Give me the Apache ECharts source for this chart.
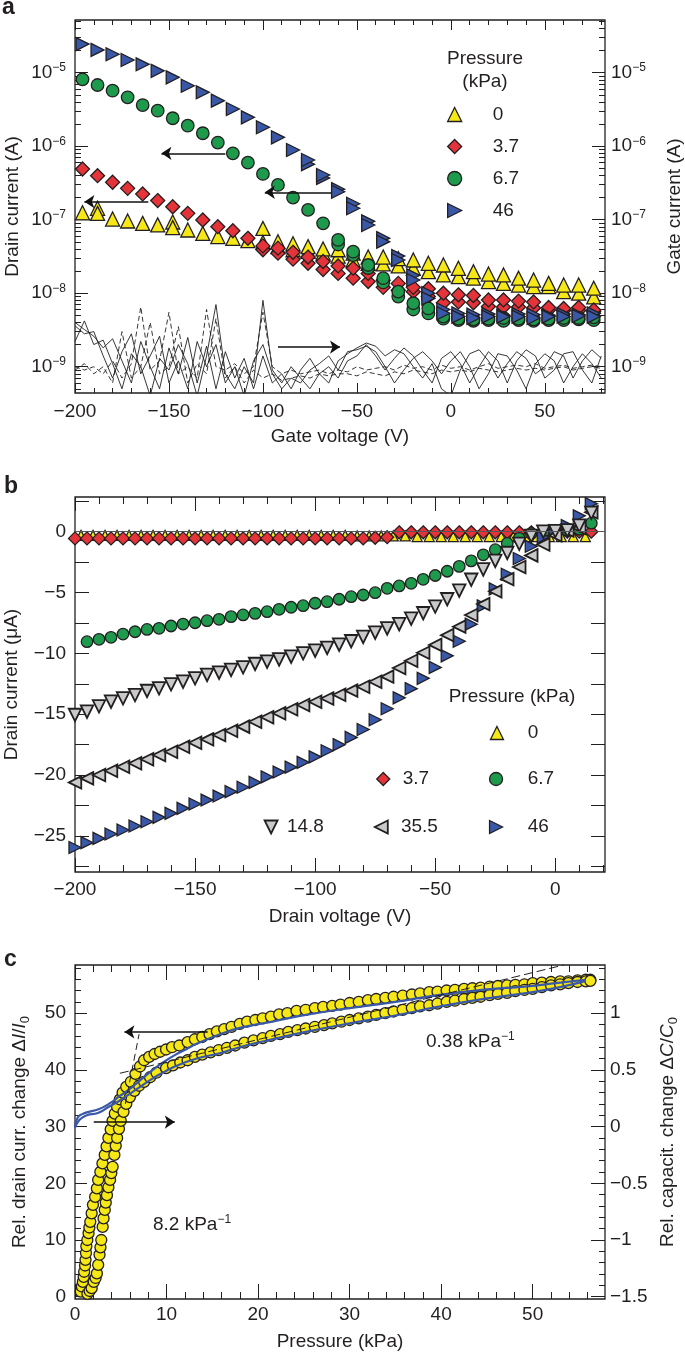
<!DOCTYPE html>
<html>
<head>
<meta charset="utf-8">
<script src="https://cdn.jsdelivr.net/npm/echarts@6.0.0/dist/echarts.min.js"></script>
<style>
  html, body { margin: 0; padding: 0; background: #fff; }
  #chart { width: 685px; height: 1355px; }
</style>
</head>
<body>
<div id="chart"></div>
<script>
// ---------- panel a : transfer curves (drain current, A) ----------
const vGateA = [-196,-188,-180,-172,-164,-156,-148,-140,-132,-124,-116,-108,-100,-92,-84,-76,-68,-60,-52,-44,-36,-28,-20,-12,-4,4,12,20,28,36,44,52,60,68,76];
const iA_0   = [1.24e-7,1.22e-7,1.02e-7,9.6e-8,8.9e-8,8.5e-8,7.8e-8,7.24e-8,6.5e-8,5.9e-8,5.58e-8,5.18e-8,4.9e-8,5.0e-8,4.7e-8,4.3e-8,4.0e-8,3.9e-8,3.5e-8,3.1e-8,3.1e-8,2.95e-8,2.83e-8,2.55e-8,2.42e-8,2.18e-8,1.96e-8,1.82e-8,1.77e-8,1.6e-8,1.51e-8,1.36e-8,1.29e-8,1.29e-8,1.17e-8];
const iA_0b  = [null,1.43e-7,null,null,null,null,9.3e-8,null,null,null,null,null,7.6e-8,4.3e-8,3.9e-8,3.7e-8,3.5e-8,3.2e-8,2.83e-8,2.55e-8,2.5e-8,2.35e-8,2.18e-8,1.96e-8,1.77e-8,1.68e-8,1.6e-8,1.44e-8,1.36e-8,1.29e-8,1.23e-8,1.23e-8,1.05e-8,1.0e-8,8.9e-9];
const iA_37  = [4.9e-7,3.97e-7,3.23e-7,2.67e-7,2.24e-7,1.82e-7,1.5e-7,1.22e-7,9.9e-8,8.03e-8,7.08e-8,5.58e-8,4.4e-8,4.1e-8,3.6e-8,3.1e-8,2.7e-8,2.35e-8,2.19e-8,1.86e-8,1.5e-8,1.36e-8,1.2e-8,1.15e-8,1.0e-8,9.5e-9,9.3e-9,8.1e-9,8.1e-9,7.8e-9,7.6e-9,6.4e-9,6.2e-9,6.4e-9,5.9e-9];
const iA_37b = [null,null,null,null,null,null,null,null,null,null,null,null,3.9e-8,3.5e-8,2.9e-8,2.55e-8,2.1e-8,1.86e-8,1.6e-8,1.44e-8,1.2e-8,1.1e-8,1.05e-8,9.0e-9,7.4e-9,7.6e-9,7.4e-9,6.6e-9,6.5e-9,6.5e-9,6.3e-9,5.9e-9,5.8e-9,5.8e-9,5.6e-9];
const iA_67  = [8.13e-6,6.8e-6,5.69e-6,4.63e-6,3.63e-6,3.04e-6,2.4e-6,1.9e-6,1.5e-6,1.12e-6,8.0e-7,5.97e-7,4.19e-7,2.97e-7,2.0e-7,1.36e-7,8.93e-8,5.3e-8,3.67e-8,2.42e-8,1.6e-8,1.05e-8,7.3e-9,6.2e-9,4.8e-9,4.5e-9,4.4e-9,4.5e-9,4.6e-9,4.5e-9,4.4e-9,4.5e-9,4.6e-9,4.6e-9,4.7e-9];
const iA_67b = [null,null,null,null,null,null,null,null,null,null,null,null,null,null,null,null,null,4.6e-8,3.3e-8,2.2e-8,1.4e-8,9.0e-9,6.0e-9,5.3e-9,4.5e-9,4.3e-9,4.2e-9,4.3e-9,4.2e-9,4.3e-9,4.2e-9,4.3e-9,4.3e-9,4.4e-9,4.3e-9];
const iA_46  = [2.45e-5,2.04e-5,1.78e-5,1.49e-5,1.30e-5,1.06e-5,8.65e-6,6.65e-6,5.41e-6,4.16e-6,3.21e-6,2.47e-6,1.81e-6,1.32e-6,8.87e-7,6.49e-7,4.06e-7,2.40e-7,1.43e-7,8.47e-8,5.02e-8,2.83e-8,1.51e-8,8.5e-9,5.33e-9,4.8e-9,4.6e-9,4.8e-9,4.8e-9,4.8e-9,4.6e-9,4.8e-9,4.8e-9,4.9e-9,4.8e-9];
const iA_46b = [null,null,null,null,null,null,null,null,null,null,null,null,null,null,null,5.7e-7,3.7e-7,2.6e-7,1.65e-7,9.5e-8,5.6e-8,3.2e-8,1.75e-8,1.0e-8,6.0e-9,5.3e-9,5.1e-9,5.2e-9,5.0e-9,5.2e-9,5.1e-9,5.0e-9,5.2e-9,5.1e-9,5.3e-9];

// gate leakage current traces (nA)
const vLeak = [-200,-195,-190,-185,-180,-175,-170,-165,-160,-155,-150,-145,-140,-135,-130,-125,-120,-115,-110,-105,-100,-95,-90,-85,-80,-75,-70,-65,-60,-55,-50,-45,-40,-35,-30,-25,-20,-15,-10,-5,0,5,10,15,20,25,30,35,40,45,50,55,60,65,70,75,80];
const leak1 = [4.0,3.2,2.6,1.8,2.4,1.2,0.6,2.2,1.0,0.5,1.8,0.8,2.5,0.6,1.9,0.5,1.6,0.7,1.3,0.5,1.4,0.6,0.8,0.5,0.9,1.3,0.8,0.6,1.2,1.5,1.8,2.1,1.9,1.4,1.7,1.5,1.0,0.7,1.1,0.5,0.4,0.9,1.5,1.7,1.2,0.7,1.1,1.6,1.3,0.8,1.0,1.6,1.4,0.7,1.2,1.7,1.3];
const leak2 = [3.6,2.8,3.0,1.4,0.7,1.6,2.8,0.8,1.4,2.6,0.6,1.2,0.5,2.2,1.0,2.0,0.6,1.0,0.4,1.2,2.0,0.8,0.5,0.7,0.6,0.9,1.1,1.4,0.9,1.6,1.7,1.9,1.6,1.0,0.6,0.9,1.3,1.6,1.2,0.8,1.2,1.6,1.0,0.5,0.8,1.5,1.4,0.9,0.5,1.1,1.5,1.2,0.6,1.0,1.5,1.1,0.7];
const leak3 = [2.2,4.2,2.0,2.3,1.1,0.5,1.5,1.0,0.4,1.3,0.9,2.0,1.1,0.4,1.4,7.0,0.8,0.5,1.0,0.6,8.0,0.9,0.6,1.0,0.7,0.5,0.8,1.0,0.7,1.2,1.4,2.0,1.4,0.9,1.3,1.8,1.4,0.9,0.6,1.3,1.6,1.1,0.6,1.0,1.6,1.2,0.6,1.2,1.7,1.4,0.7,0.9,1.5,1.6,0.9,0.6,1.4];
const leak4 = [1.0,0.9,1.0,0.8,1.2,0.7,1.1,6.5,0.9,1.2,5.5,0.8,1.0,0.7,6.0,1.0,0.9,1.1,0.8,1.0,5.5,1.0,0.8,0.9,0.8,0.85,0.9,0.8,0.9,0.85,1.0,0.9,0.95,1.0,0.9,1.05,0.95,1.0,0.9,1.05,0.95,1.0,0.9,1.0,1.1,0.95,1.0,1.05,1.0,1.1,0.95,1.0,1.05,0.95,1.0,1.05,1.0];
const leak5 = [0.9,1.1,0.8,1.0,0.6,3.0,0.7,1.0,4.0,0.8,1.0,3.5,0.6,1.1,0.8,4.5,0.7,1.0,0.6,0.9,0.7,0.8,0.65,0.7,0.75,0.7,0.8,0.75,0.8,0.8,0.75,0.85,0.8,0.75,0.85,0.8,0.9,0.85,0.8,0.9,0.85,0.9,0.85,0.95,0.9,0.85,0.9,0.95,0.9,0.95,0.9,0.95,1.0,0.9,0.95,1.0,0.95];

// arrows [x1, y1, x2, y2] (head at x2,y2)
const arrowsA = [[-120, 8.0e-7, -154, 8.0e-7], [-161, 1.76e-7, -195, 1.76e-7], [-62, 2.36e-7, -99, 2.36e-7], [-92, 1.85e-9, -59, 1.85e-9]];

// ---------- panel b : output curves (drain current, uA) ----------
const vDrain  = [-200,-195,-190,-185,-180,-175,-170,-165,-160,-155,-150,-145,-140,-135,-130,-125,-120,-115,-110,-105,-100,-95,-90,-85,-80,-75,-70,-65,-60,-55,-50,-45,-40,-35,-30,-25,-20,-15,-10,-5,0,5,10,15];
const vDrain0 = [-197.5,-192.5,-187.5,-182.5,-177.5,-172.5,-167.5,-162.5,-157.5,-152.5,-147.5,-142.5,-137.5,-132.5,-127.5,-122.5,-117.5,-112.5,-107.5,-102.5,-97.5,-92.5,-87.5,-82.5,-77.5,-72.5,-67.5,-62.5,-57.5,-52.5,-47.5,-42.5,-37.5,-32.5,-27.5,-22.5,-17.5,-12.5,-7.5,-2.5,2.5,7.5,12.5];
const iB_0   = [-0.3,-0.3,-0.3,-0.3,-0.3,-0.3,-0.3,-0.3,-0.3,-0.3,-0.3,-0.3,-0.3,-0.3,-0.3,-0.3,-0.3,-0.3,-0.3,-0.3,-0.3,-0.3,-0.3,-0.35,-0.35,-0.35,-0.35,-0.35,-0.4,-0.4,-0.4,-0.4,-0.4,-0.4,-0.4,-0.4,-0.4,-0.4,-0.4,-0.4,-0.4,-0.4,-0.4];
const iB_37  = [-0.55,-0.55,-0.55,-0.55,-0.55,-0.55,-0.55,-0.55,-0.55,-0.55,-0.55,-0.55,-0.55,-0.55,-0.55,-0.55,-0.55,-0.55,-0.55,-0.55,-0.55,-0.55,-0.55,-0.55,-0.55,-0.5,-0.45,-0.05,-0.05,-0.05,-0.05,-0.05,-0.05,-0.05,-0.05,-0.05,-0.05,-0.05,-0.05,-0.05,-0.05,0.0,0.0,0.0];
const iB_67  = [null,-9.04,-8.84,-8.68,-8.41,-8.22,-8.03,-7.94,-7.75,-7.59,-7.48,-7.31,-7.2,-6.98,-6.84,-6.71,-6.57,-6.38,-6.21,-6.08,-5.88,-5.75,-5.55,-5.34,-5.2,-5.01,-4.65,-4.46,-4.24,-3.91,-3.6,-3.25,-2.85,-2.4,-1.9,-1.48,-0.96,-0.55,-0.15,-0.02,0.05,0.1,0.2,0.7];
const iB_148 = [-15.06,-14.79,-14.35,-13.97,-13.69,-13.42,-13.09,-12.87,-12.54,-12.32,-12.05,-11.77,-11.58,-11.36,-11.14,-10.87,-10.68,-10.49,-10.27,-9.99,-9.78,-9.55,-9.28,-9.0,-8.65,-8.3,-7.95,-7.6,-7.15,-6.7,-6.15,-5.55,-4.85,-3.95,-3.1,-2.4,-1.75,-1.0,-0.35,0.0,0.05,0.1,0.5,1.55];
const iB_355 = [-20.6,-20.27,-19.99,-19.64,-19.31,-19.03,-18.7,-18.35,-18.08,-17.67,-17.34,-17.06,-16.7,-16.35,-16.02,-15.61,-15.25,-14.92,-14.59,-14.24,-13.97,-13.7,-13.4,-13.06,-12.74,-12.33,-11.91,-11.2,-10.6,-9.95,-9.3,-8.5,-7.8,-6.85,-5.95,-4.9,-3.9,-2.9,-1.95,-1.05,-0.3,0.1,0.3,1.6];
const iB_46  = [-25.95,-25.55,-25.2,-24.84,-24.51,-24.18,-23.83,-23.47,-23.14,-22.73,-22.37,-22.05,-21.72,-21.36,-21.0,-20.6,-20.15,-19.75,-19.35,-18.95,-18.5,-18.0,-17.5,-16.9,-16.25,-15.45,-14.55,-13.65,-12.9,-12.05,-11.15,-10.2,-9.0,-7.6,-6.1,-4.7,-3.5,-2.2,-1.2,-0.45,0.1,0.5,1.3,2.3];

// ---------- panel c : pressure response ----------
const cUpP = [0.63,0.75,0.86,0.95,1.0,1.1,1.15,1.2,1.24,1.35,1.48,1.57,1.67,1.82,1.96,2.2,2.39,2.53,2.77,3.0,3.25,3.45,3.65,3.9,4.1,4.35,4.6,4.9,5.2,5.6,6.1,6.6,7.1,7.55,8.1,8.7,9.3,9.95,10.6,11.4,12.3,13.1,13.9,14.7,15.5,16.3,17.1,18.0,18.8,19.7,20.5,21.4,22.3,23.2,24.2,25.2,26.2,27.1,28.1,29.0,30.0,31.0,32.0,32.9,33.9,34.8,35.8,36.8,37.7,38.7,39.6,40.6,41.5,42.5,43.4,44.3,45.3,46.2,47.2,48.1,49.1,50.0,51.0,52.0,53.0,53.9,54.9,55.8,56.3];
const cUpV = [0.9,1.8,2.6,3.5,4.4,5.5,6.5,7.7,8.9,10,11.2,12.2,13.2,14.7,16.2,17.6,19.1,20.6,22,23.5,25,26.5,28,29.5,31,32.3,33.5,34.8,36,37,37.9,39.3,40.6,41.7,42.3,42.8,43.2,43.6,44.0,44.3,44.9,45.4,45.8,46.3,46.8,47.2,47.6,48.1,48.5,48.8,49.1,49.4,49.8,50.0,50.4,50.6,50.9,51.1,51.3,51.5,51.8,52.0,52.3,52.5,52.7,52.9,53.1,53.3,53.5,53.7,53.8,54.0,54.1,54.3,54.4,54.5,54.7,54.8,54.9,55.0,55.1,55.3,55.4,55.5,55.6,55.6,55.8,55.9,55.9];
const cLoP = [1.36,1.6,1.82,2.05,2.25,2.39,2.53,2.68,2.78,2.87,3.02,3.12,3.25,3.36,3.49,3.65,3.83,3.97,4.11,4.3,4.45,4.6,4.8,5.0,5.3,5.6,6.0,6.5,7.0,7.55,8.2,8.9,9.95,10.7,11.5,12.3,13.1,13.9,14.8,15.7,16.6,17.5,18.5,19.5,20.5,21.4,22.4,23.3,24.3,25.2,26.2,27.2,28.1,29.1,30.0,31.0,32.0,32.9,33.9,34.8,35.8,36.8,37.7,38.7,39.6,40.6,41.5,42.5,43.4,44.3,45.3,46.2,47.2,48.1,49.1,50.0,51.0,52.0,53.0,53.9,54.9,55.8,56.3];
const cLoV = [0.5,1.0,1.5,2.6,3.3,4.1,5.6,7.4,8.7,10,12.3,13.8,15.3,16.6,17.9,19.3,20.6,21.8,22.9,25,26.6,28,29.6,31,32.6,34.0,35.2,36.3,37.2,37.9,38.7,39.5,40.3,40.8,41.3,41.7,42.3,42.7,43.1,43.5,43.9,44.3,44.8,45.2,45.6,46.0,46.3,46.7,47.0,47.3,47.6,47.9,48.2,48.5,48.8,49.1,49.4,49.7,50.0,50.3,50.6,50.9,51.2,51.4,51.7,52.0,52.2,52.5,52.7,52.9,53.2,53.4,53.6,53.9,54.1,54.3,54.6,54.9,55.1,55.3,55.5,55.6,55.7];
const capUpP = [0,0.3,0.8,1.5,2.5,3.7,4.9,6.1,7.3,8.5,9.7,10.9,12.1,13.3,15.7,18.0,20.5,25.2,30,35,39.6,45,49.1,53,55.8];
const capUpV = [0.0,0.08,0.11,0.13,0.15,0.2,0.27,0.34,0.42,0.5,0.57,0.63,0.68,0.73,0.81,0.87,0.91,0.985,1.045,1.1,1.16,1.21,1.235,1.27,1.295];
const capLoP = [0,0.5,1.3,2.5,3.7,4.9,6.1,7.3,8.5,9.7,10.9,13.3,15.7,18.0,20.5,25.2,30,35,39.6,45,49.1,53,55.8];
const capLoV = [-0.01,0.06,0.1,0.12,0.175,0.23,0.295,0.36,0.425,0.48,0.53,0.6,0.645,0.7,0.75,0.835,0.91,0.98,1.055,1.13,1.175,1.23,1.285];
const fitSteep   = [[5.5, 34.0], [7.0, 46.3]];
const fitShallow = [[4.9, 39.4], [53.4, 58.5]];
const arrowsC = [[14.5, 46.7, 5.4, 46.7], [2.05, 30.8, 10.9, 30.8]];

// ---------- tick labels ----------
const xA_major = [-200,-150,-100,-50,0,50];
const xB_major = [-200,-150,-100,-50,0];
const xC_major = [0,10,20,30,40,50];
const yA_major = [-9,-8,-7,-6,-5];          // decades (log10 A)
const yB_major = [-25,-20,-15,-10,-5,0];
const yC_major = [0,10,20,30,40,50];
const yC2_major = [-1.5,-1,-0.5,0,0.5,1];

const INK = '#231f20';
const FONT = '"Liberation Sans", Arial, Helvetica, sans-serif';
const C_YEL = '#f6e816', C_RED = '#e5333a', C_GRN = '#1d9a4c', C_BLU = '#3a58a8', C_GRY = '#c8c9ca';
const SYM_R = 'path://M0,0L10,5L0,10Z';
const SYM_D = 'path://M0,0L10,0L5,10Z';
const SYM_L = 'path://M10,0L0,5L10,10Z';
const lg = Math.log10;

const steps = (a, b, s) => { const r = []; for (let v = a; v <= b + 1e-9; v += s) r.push(+v.toFixed(4)); return r; };
const notIn = (arr, maj) => arr.filter(v => !maj.some(m => Math.abs(m - v) < 1e-6));
const minus = v => String(v).replace('-', '\u2212');
const logFmt = v => '10{s|\u2212' + Math.round(-v) + '}';

const RICH = {
  s: { fontSize: 12, fontFamily: FONT, color: INK, verticalAlign: 'top', lineHeight: 12 },
  i: { fontSize: 19, fontFamily: FONT, color: INK, fontStyle: 'italic' },
  sub: { fontSize: 13, fontFamily: FONT, color: INK, verticalAlign: 'bottom', lineHeight: 13 }
};

function axis(o) {
  const a = {
    type: 'value', gridIndex: o.g, position: o.pos, min: o.min, max: o.max, offset: 0,
    axisLine: { show: false, onZero: false },
    splitLine: { show: false },
    axisTick: { show: true, inside: true, length: o.len, customValues: o.ticks, lineStyle: { color: INK, width: 1 } },
    axisLabel: { show: false },
    nameMoveOverlap: false
  };
  if (o.labels) {
    a.axisLabel = { show: true, customValues: o.labels, formatter: o.fmt || minus, margin: o.margin,
      fontSize: 19, fontFamily: FONT, color: INK, lineHeight: 22, rich: RICH, hideOverlap: false };
  }
  if (o.name) {
    a.name = o.name; a.nameLocation = 'middle'; a.nameGap = o.gap;
    if (o.rot) a.nameRotate = o.rot;
    a.nameTextStyle = { fontSize: 19, fontFamily: FONT, color: INK, lineHeight: 24, rich: RICH };
  }
  return a;
}

function pts(xs, ys, tf) {
  const out = [];
  xs.forEach((x, i) => { const y = ys[i]; if (y != null) out.push([x, tf ? tf(y) : y]); });
  return out;
}
function sc(name, data, xi, yi, sym, size, color, z, bw) {
  return { type: 'scatter', name, data, xAxisIndex: xi, yAxisIndex: yi, symbol: sym, symbolSize: size, z,
    itemStyle: { color, borderColor: INK, borderWidth: bw || 1.3, opacity: 1 }, silent: true, emphasis: { disabled: true } };
}
function arrows(list, tf) {
  return {
    silent: true, symbol: ['none', 'arrow'], symbolSize: 10, label: { show: false },
    lineStyle: { color: '#111', width: 1.6, type: 'solid' }, emphasis: { disabled: true }, animation: false,
    data: list.map(a => [{ coord: [a[0], tf ? tf(a[1]) : a[1]] }, { coord: [a[2], tf ? tf(a[3]) : a[3]] }])
  };
}

// axis extents
const xA = [-200, 82], yA = [-9.358, -4.283];
const xB = [-200, 20.7], yB = [-27.96, 2.85];
const xC = [0, 57.9], yC = [-0.41, 58.5], yC2 = [-1.5205, 1.425];

const yA_minor = [-10,-9,-8,-7,-6,-5].flatMap(n => [2,3,4,5,6,7,8,9].map(k => n + lg(k))).filter(v => v > yA[0] && v < yA[1]);

const xAxis = [
  axis({ g: 0, pos: 'bottom', min: xA[0], max: xA[1], ticks: xA_major, len: 10, labels: xA_major, margin: 8, name: 'Gate voltage (V)', gap: 32 }),
  axis({ g: 0, pos: 'bottom', min: xA[0], max: xA[1], ticks: notIn(steps(-200, 80, 10), xA_major), len: 5 }),
  axis({ g: 0, pos: 'top', min: xA[0], max: xA[1], ticks: xA_major, len: 10 }),
  axis({ g: 0, pos: 'top', min: xA[0], max: xA[1], ticks: notIn(steps(-200, 80, 10), xA_major), len: 5 }),
  axis({ g: 1, pos: 'bottom', min: xB[0], max: xB[1], ticks: xB_major, len: 14, labels: xB_major, margin: 7, name: 'Drain voltage (V)', gap: 33 }),
  axis({ g: 1, pos: 'bottom', min: xB[0], max: xB[1], ticks: notIn(steps(-200, 20, 10), xB_major), len: 7 }),
  axis({ g: 1, pos: 'top', min: xB[0], max: xB[1], ticks: xB_major, len: 14 }),
  axis({ g: 1, pos: 'top', min: xB[0], max: xB[1], ticks: notIn(steps(-200, 20, 10), xB_major), len: 7 }),
  axis({ g: 2, pos: 'bottom', min: xC[0], max: xC[1], ticks: xC_major, len: 15, labels: xC_major, margin: 5, name: 'Pressure (kPa)', gap: 31 }),
  axis({ g: 2, pos: 'bottom', min: xC[0], max: xC[1], ticks: notIn(steps(0, 56, 2), xC_major), len: 7 }),
  axis({ g: 2, pos: 'top', min: xC[0], max: xC[1], ticks: xC_major, len: 15 }),
  axis({ g: 2, pos: 'top', min: xC[0], max: xC[1], ticks: notIn(steps(0, 56, 2), xC_major), len: 7 })
];

const yAxis = [
  axis({ g: 0, pos: 'left', min: yA[0], max: yA[1], ticks: yA_major, len: 13, labels: yA_major, fmt: logFmt, margin: 9, name: 'Drain current (A)', gap: 50, rot: 90 }),
  axis({ g: 0, pos: 'left', min: yA[0], max: yA[1], ticks: yA_minor, len: 6 }),
  axis({ g: 0, pos: 'right', min: yA[0], max: yA[1], ticks: yA_major, len: 13, labels: yA_major, fmt: logFmt, margin: 6, name: 'Gate current (A)', gap: 58, rot: 90 }),
  axis({ g: 0, pos: 'right', min: yA[0], max: yA[1], ticks: yA_minor, len: 6 }),
  axis({ g: 1, pos: 'left', min: yB[0], max: yB[1], ticks: steps(-27.5, 2.5, 2.5), len: 14, labels: yB_major, margin: 9, name: 'Drain current (\u03bcA)', gap: 51, rot: 90 }),
  axis({ g: 1, pos: 'right', min: yB[0], max: yB[1], ticks: steps(-27.5, 2.5, 2.5), len: 14 }),
  axis({ g: 2, pos: 'left', min: yC[0], max: yC[1], ticks: yC_major, len: 12, labels: yC_major, margin: 9, name: 'Rel. drain curr. change \u0394{i|I}/{i|I}{sub|0}', gap: 43, rot: 90 }),
  axis({ g: 2, pos: 'left', min: yC[0], max: yC[1], ticks: notIn(steps(0, 58, 2), yC_major), len: 6 }),
  axis({ g: 2, pos: 'right', min: yC2[0], max: yC2[1], ticks: yC2_major, len: 14, labels: yC2_major, margin: 5, name: 'Rel. capacit. change \u0394{i|C}/{i|C}{sub|0}', gap: 51, rot: 90 }),
  axis({ g: 2, pos: 'right', min: yC2[0], max: yC2[1], ticks: notIn(steps(-1.5, 1.4, 0.1), yC2_major), len: 6 })
];

const gridBase = { show: true, borderColor: INK, borderWidth: 1.3, backgroundColor: 'transparent', containLabel: false, outerBoundsMode: 'none' };
const grid = [
  Object.assign({ left: 75, top: 20, width: 530, height: 373 }, gridBase),
  Object.assign({ left: 75, top: 497, width: 530, height: 375 }, gridBase),
  Object.assign({ left: 75, top: 965, width: 530, height: 334 }, gridBase)
];

const series = [];
// panel a: leakage traces
[leak1, leak2, leak3, leak4, leak5].forEach((arr, i) => {
  series.push({ type: 'line', name: 'gate' + i, data: vLeak.map((v, j) => [v, lg(arr[j] * 1e-9)]),
    xAxisIndex: 0, yAxisIndex: 0, symbol: 'none', silent: true, z: 1,
    lineStyle: { color: INK, width: 0.9, type: i >= 3 ? [5, 3] : 'solid' } });
});
series.push(
  sc('0b', pts(vGateA, iA_0b, lg), 0, 0, 'triangle', 14, C_YEL, 2),
  sc('0', pts(vGateA, iA_0, lg), 0, 0, 'triangle', 14, C_YEL, 2),
  sc('3.7b', pts(vGateA, iA_37b, lg), 0, 0, 'diamond', 14, C_RED, 3),
  sc('3.7', pts(vGateA, iA_37, lg), 0, 0, 'diamond', 14, C_RED, 3),
  sc('6.7b', pts(vGateA, iA_67b, lg), 0, 0, 'circle', 12.5, C_GRN, 4),
  sc('6.7', pts(vGateA, iA_67, lg), 0, 0, 'circle', 12.5, C_GRN, 4),
  sc('46b', pts(vGateA, iA_46b, lg), 0, 0, SYM_R, 13, C_BLU, 5)
);
const blueA = sc('46', pts(vGateA, iA_46, lg), 0, 0, SYM_R, 13, C_BLU, 6);
blueA.markLine = arrows(arrowsA, lg);
series.push(blueA);

// panel b
const yelB = sc('0', pts(vDrain0, iB_0), 4, 4, 'triangle', 10, C_YEL, 1);
yelB.markLine = { silent: true, symbol: 'none', label: { show: false }, animation: false,
  lineStyle: { color: '#555', width: 1, type: 'solid' }, data: [{ yAxis: 0 }] };
series.push(
  yelB,
  sc('3.7', pts(vDrain, iB_37), 4, 4, 'diamond', 13, C_RED, 3),
  sc('6.7', pts(vDrain, iB_67), 4, 4, 'circle', 11.5, C_GRN, 3),
  sc('46', pts(vDrain, iB_46), 4, 4, SYM_R, 12, C_BLU, 3),
  sc('35.5', pts(vDrain, iB_355), 4, 4, SYM_L, 12.5, C_GRY, 3, 1.8),
  sc('14.8', pts(vDrain, iB_148), 4, 4, SYM_D, 12.5, C_GRY, 3, 1.8)
);

// panel c
series.push(
  sc('up', pts(cUpP, cUpV), 8, 6, 'circle', 11, C_YEL, 2),
  sc('down', pts(cLoP, cLoV), 8, 6, 'circle', 11, C_YEL, 2),
  { type: 'line', name: 'capUp', data: pts(capUpP, capUpV), xAxisIndex: 8, yAxisIndex: 8, symbol: 'none', smooth: true, silent: true, z: 4,
    lineStyle: { color: C_BLU, width: 2.2 } },
  { type: 'line', name: 'capLo', data: pts(capLoP, capLoV), xAxisIndex: 8, yAxisIndex: 8, symbol: 'none', smooth: true, silent: true, z: 4,
    lineStyle: { color: C_BLU, width: 2.2 } },
  { type: 'line', name: 'fitSteep', data: fitSteep, xAxisIndex: 8, yAxisIndex: 6, symbol: 'none', silent: true, z: 5,
    lineStyle: { color: INK, width: 1, type: [7, 4] } }
);
const shallow = { type: 'line', name: 'fitShallow', data: fitShallow, xAxisIndex: 8, yAxisIndex: 6, symbol: 'none', silent: true, z: 6,
  lineStyle: { color: INK, width: 1, type: [9, 4] } };
shallow.markLine = arrows(arrowsC);
series.push(shallow);

// legends
const legText = { fontSize: 19, fontFamily: FONT, color: INK };
const legend = [
  { left: 447, top: 105, orient: 'vertical', padding: 0, itemWidth: 14, itemHeight: 14, itemGap: 13, selectedMode: false,
    data: ['0', '3.7', '6.7', '46'], itemStyle: { borderColor: INK, borderWidth: 1.3 },
    textStyle: Object.assign({ lineHeight: 14, padding: [0, 0, 0, 26] }, legText) }
];
[['0', 496.3, 730, 527], ['3.7', 382.6, 776, 402], ['6.7', 495.4, 776, 527],
 ['14.8', 270.2, 824, 286], ['35.5', 380.4, 824, 400], ['46', 495.4, 824, 527]].forEach(e => {
  legend.push({ left: e[1] - 6.5, top: e[2] - 6.5, padding: 0, itemWidth: 13, itemHeight: 13, selectedMode: false,
    data: [e[0]], itemStyle: { borderColor: INK, borderWidth: (e[0] === '14.8' || e[0] === '35.5') ? 1.8 : 1.3 },
    textStyle: Object.assign({ lineHeight: 13, padding: [0, 0, 0, Math.max(0, e[3] - (e[1] + 6.5 + 5))] }, legText) });
});

function txt(t, x, y, size, weight, align) {
  return { type: 'text', x, y, z: 100, silent: true,
    style: { text: t, fill: INK, fontSize: size, fontFamily: FONT, fontWeight: weight || 'normal',
      align: align || 'left', verticalAlign: 'middle', lineHeight: 22,
      rich: { s: { fontSize: 12, fontFamily: FONT, fill: INK, verticalAlign: 'top', lineHeight: 12 } } } };
}
const graphic = [
  txt('a', 2, 8, 23, 'bold'),
  txt('b', 4, 487, 23, 'bold'),
  txt('c', 4, 960, 23, 'bold'),
  txt('Pressure', 485, 59, 19, 'normal', 'center'),
  txt('(kPa)', 485, 82, 19, 'normal', 'center'),
  txt('Pressure (kPa)', 512, 697, 19, 'normal', 'center'),
  txt('0.38 kPa{s|\u22121}', 426, 1042, 19),
  txt('8.2 kPa{s|\u22121}', 153, 1225, 19)
];

const chart = echarts.init(document.getElementById('chart'), null, { renderer: 'canvas' });
chart.setOption({
  animation: false,
  backgroundColor: '#ffffff',
  textStyle: { fontFamily: FONT },
  grid, xAxis, yAxis, series, legend, graphic
});
</script>
</body>
</html>
